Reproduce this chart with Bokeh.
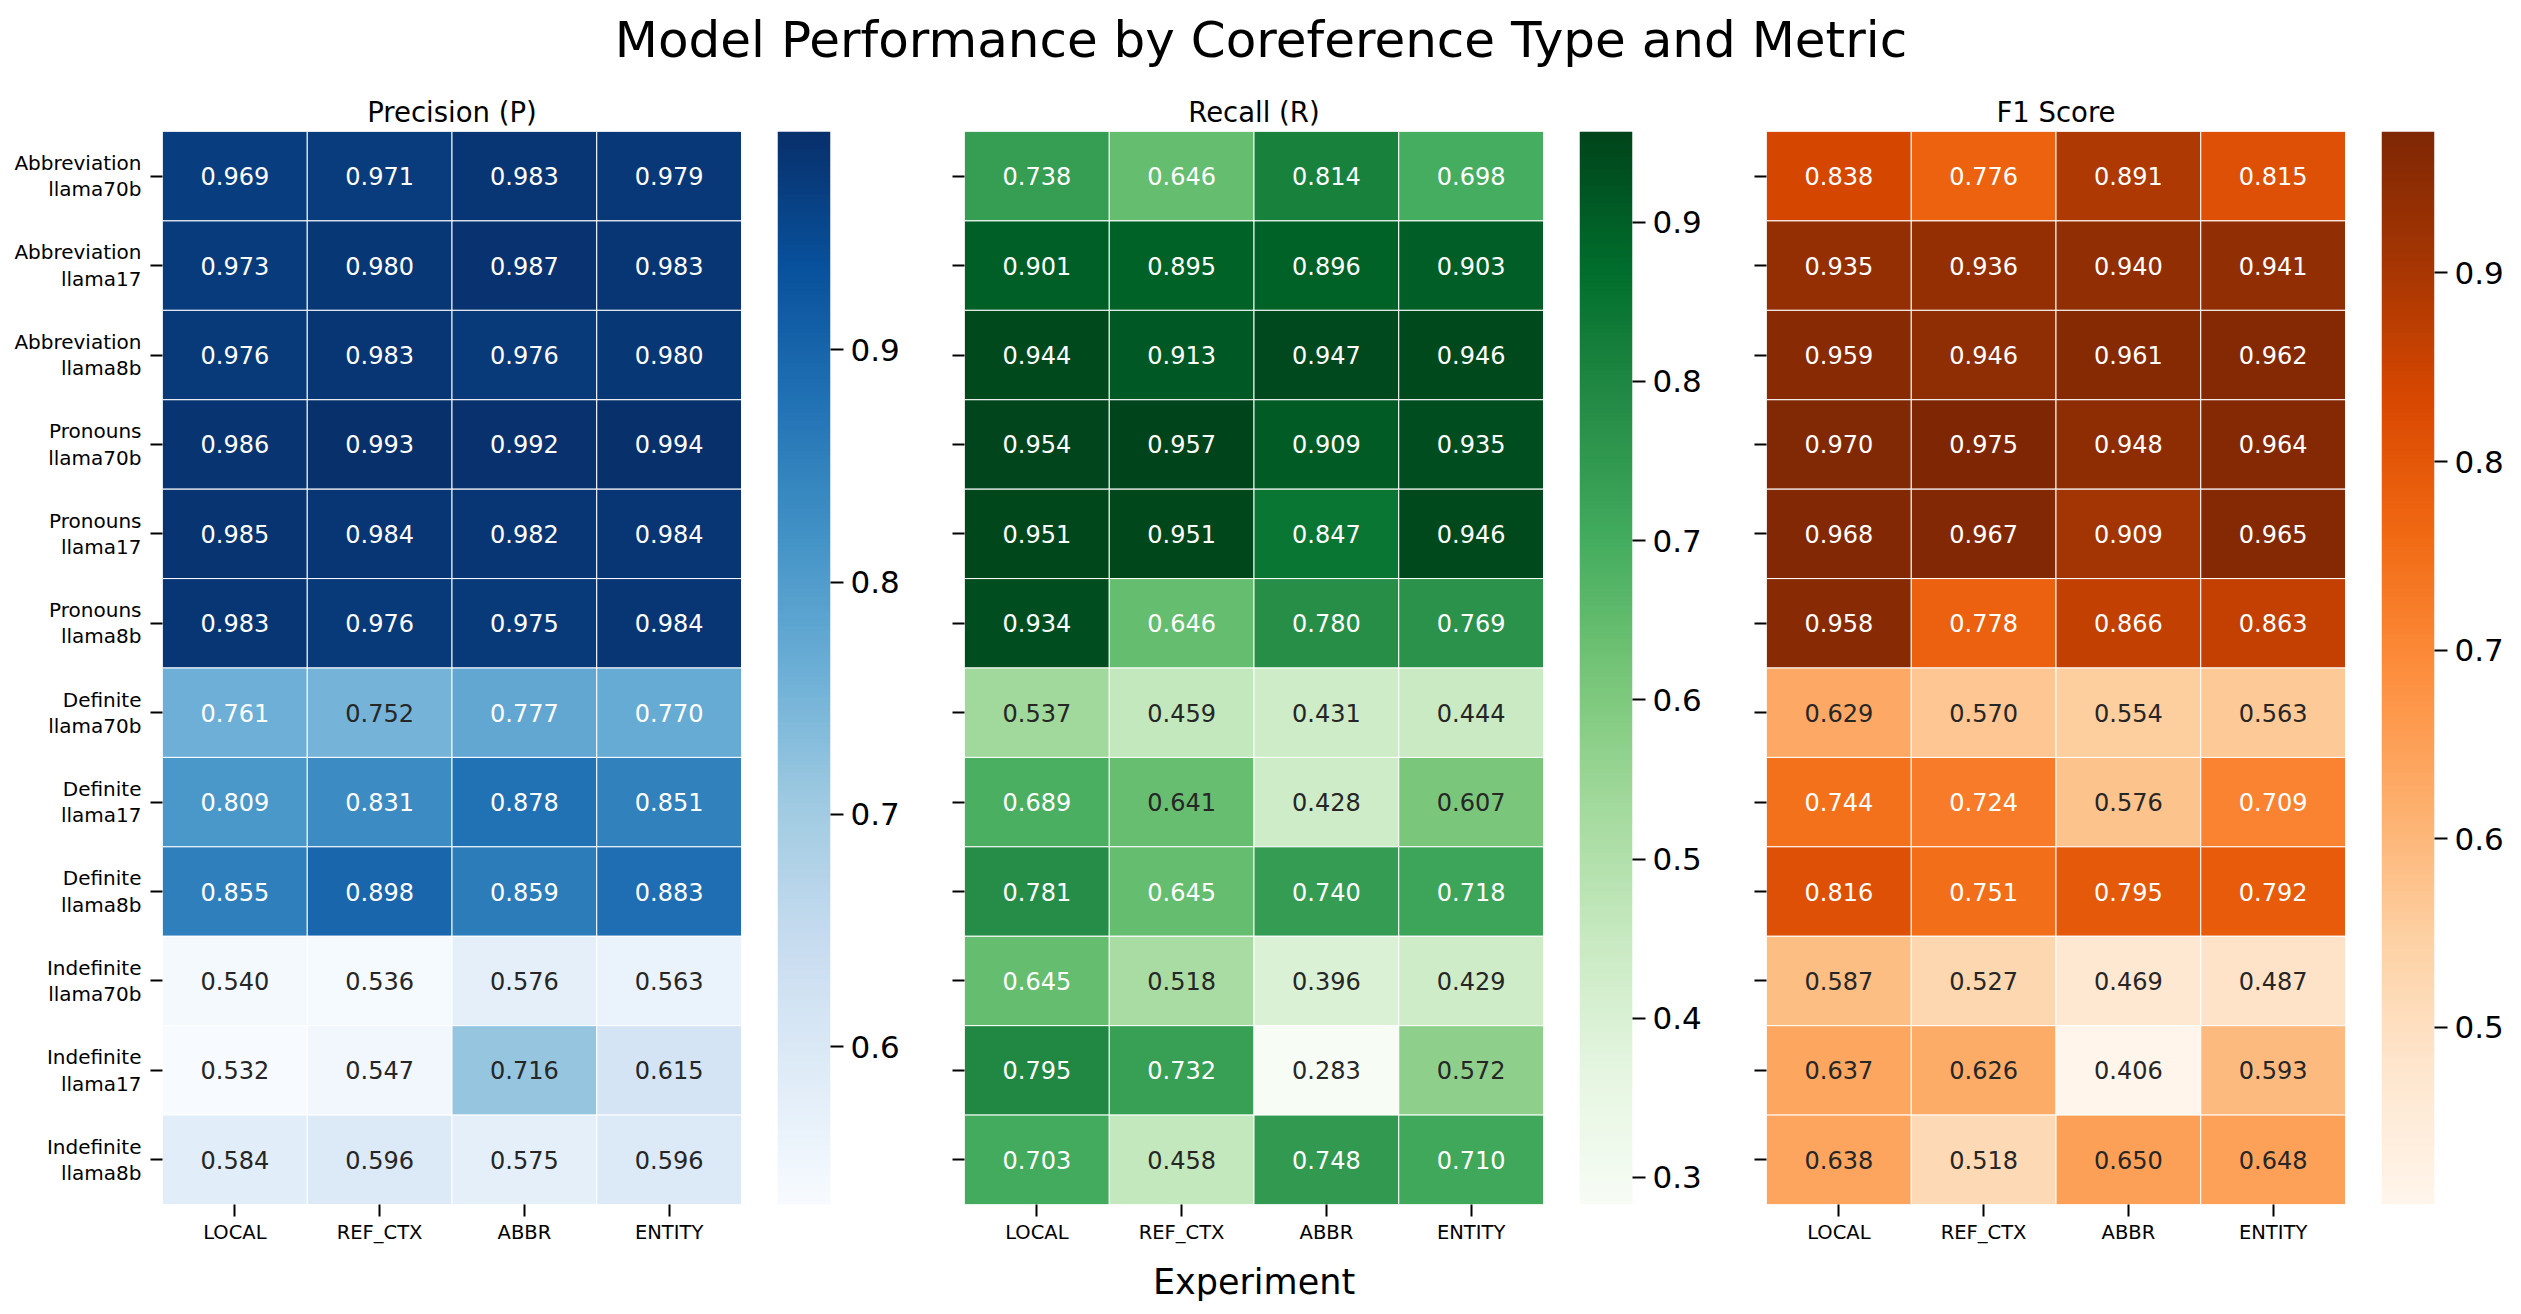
import numpy as np
from bokeh.plotting import figure
from bokeh.models import (ColumnDataSource, LinearColorMapper, FixedTicker,
                          FactorRange, Range1d)
from bokeh.layouts import row, column
from bokeh.palettes import Blues256, Greens256, Oranges256
from bokeh.core.properties import value
from bokeh.embed import file_html
from bokeh.resources import INLINE

FONT = "DejaVu Sans"

coref_types = ["Abbreviation"] * 3 + ["Pronouns"] * 3 + ["Definite"] * 3 + ["Indefinite"] * 3
models = ["llama70b", "llama17", "llama8b"] * 4
experiments = ["LOCAL", "REF_CTX", "ABBR", "ENTITY"]

precision = [
    [0.969, 0.971, 0.983, 0.979],
    [0.973, 0.980, 0.987, 0.983],
    [0.976, 0.983, 0.976, 0.980],
    [0.986, 0.993, 0.992, 0.994],
    [0.985, 0.984, 0.982, 0.984],
    [0.983, 0.976, 0.975, 0.984],
    [0.761, 0.752, 0.777, 0.770],
    [0.809, 0.831, 0.878, 0.851],
    [0.855, 0.898, 0.859, 0.883],
    [0.540, 0.536, 0.576, 0.563],
    [0.532, 0.547, 0.716, 0.615],
    [0.584, 0.596, 0.575, 0.596],
]
recall = [
    [0.738, 0.646, 0.814, 0.698],
    [0.901, 0.895, 0.896, 0.903],
    [0.944, 0.913, 0.947, 0.946],
    [0.954, 0.957, 0.909, 0.935],
    [0.951, 0.951, 0.847, 0.946],
    [0.934, 0.646, 0.780, 0.769],
    [0.537, 0.459, 0.431, 0.444],
    [0.689, 0.641, 0.428, 0.607],
    [0.781, 0.645, 0.740, 0.718],
    [0.645, 0.518, 0.396, 0.429],
    [0.795, 0.732, 0.283, 0.572],
    [0.703, 0.458, 0.748, 0.710],
]
f1_score = [
    [0.838, 0.776, 0.891, 0.815],
    [0.935, 0.936, 0.940, 0.941],
    [0.959, 0.946, 0.961, 0.962],
    [0.970, 0.975, 0.948, 0.964],
    [0.968, 0.967, 0.909, 0.965],
    [0.958, 0.778, 0.866, 0.863],
    [0.629, 0.570, 0.554, 0.563],
    [0.744, 0.724, 0.576, 0.709],
    [0.816, 0.751, 0.795, 0.792],
    [0.587, 0.527, 0.469, 0.487],
    [0.637, 0.626, 0.406, 0.593],
    [0.638, 0.518, 0.650, 0.648],
]

p_ticks = [0.6, 0.7, 0.8, 0.9]
r_ticks = [0.3, 0.4, 0.5, 0.6, 0.7, 0.8, 0.9]
f_ticks = [0.5, 0.6, 0.7, 0.8, 0.9]

row_labels = [f"{c}\n{m}" for c, m in zip(coref_types, models)]

FRAME_W = 579
FRAME_H = 1077
TOP = 53
BOTTOM = 96
CB_GAP = 36
CB_W = 53
TITLE_H = 78


def luminance(hexcol):
    rgb = np.array([int(hexcol[i:i + 2], 16) / 255.0 for i in (1, 3, 5)])
    rgb = np.where(rgb <= 0.03928, rgb / 12.92, ((rgb + 0.055) / 1.055) ** 2.4)
    return float(rgb.dot([0.2126, 0.7152, 0.0722]))


def panel(title, data, palette, ticks, show_labels, left, cb_right, xlabel=None):
    pal = list(reversed(palette))
    vals = np.array(data)
    low, high = float(vals.min()), float(vals.max())
    mapper = LinearColorMapper(palette=pal, low=low, high=high)
    xs, ys, vs, txt, tc = [], [], [], [], []
    for i, lab in enumerate(row_labels):
        for j, e in enumerate(experiments):
            v = data[i][j]
            xs.append(e)
            ys.append(lab)
            vs.append(v)
            txt.append(f"{v:.3f}")
            idx = int(min(len(pal) - 1, max(0, np.floor((v - low) / (high - low) * len(pal)))))
            tc.append("#262626" if luminance(pal[idx]) > 0.408 else "#ffffff")
    src = ColumnDataSource(dict(x=xs, y=ys, v=vs, t=txt, tc=tc))
    p = figure(x_range=FactorRange(*experiments), y_range=FactorRange(*reversed(row_labels)),
               width=left + FRAME_W, height=TOP + FRAME_H + BOTTOM,
               min_border_left=left, min_border_right=0, min_border_top=TOP,
               min_border_bottom=BOTTOM, toolbar_location=None, output_backend="svg",
               title=title)
    p.rect(x="x", y="y", width=1, height=1, source=src,
           fill_color={"field": "v", "transform": mapper}, line_color="white", line_width=1)
    p.text(x="x", y="y", text="t", source=src, text_color="tc", text_align="center",
           text_baseline="middle", text_font_size="24px", text_font=value(FONT))
    p.title.align = "center"
    p.title.text_font = FONT
    p.title.text_font_size = "27.5px"
    p.title.text_font_style = "normal"
    p.title.text_color = "black"
    p.title.standoff = 8
    p.grid.visible = False
    p.outline_line_color = None
    for ax in (p.xaxis, p.yaxis):
        ax.axis_line_color = None
        ax.major_tick_in = 0
        ax.major_tick_out = 12
        ax.major_tick_line_width = 2
        ax.major_tick_line_color = "black"
        ax.major_label_text_font = FONT
        ax.major_label_text_color = "black"
    p.xaxis.major_label_text_font_size = "19.5px"
    p.xaxis.major_label_standoff = 4
    p.yaxis.major_label_text_font_size = "20px"
    p.yaxis.major_label_text_line_height = 1.1
    p.yaxis.major_label_standoff = 9
    if not show_labels:
        p.yaxis.major_label_overrides = {lab: "" for lab in row_labels}
        p.yaxis.major_label_text_color = None
    if xlabel:
        p.xaxis.axis_label = xlabel
        p.xaxis.axis_label_text_font = FONT
        p.xaxis.axis_label_text_font_size = "35px"
        p.xaxis.axis_label_text_font_style = "normal"
        p.xaxis.axis_label_text_color = "black"
        p.xaxis.axis_label_standoff = 15

    # colour bar: its own narrow figure, a gradient image on the value scale
    c = figure(x_range=Range1d(0, 1), y_range=Range1d(low, high),
               width=CB_GAP + CB_W + cb_right, height=TOP + FRAME_H + BOTTOM,
               min_border_left=CB_GAP, min_border_right=cb_right, min_border_top=TOP,
               min_border_bottom=BOTTOM, toolbar_location=None, output_backend="svg",
               y_axis_location="right")
    grad = np.linspace(low, high, 512).reshape(-1, 1)
    c.image(image=[grad], x=0, y=low, dw=1, dh=high - low, color_mapper=mapper)
    c.xaxis.visible = False
    c.grid.visible = False
    c.outline_line_color = None
    ya = c.yaxis[0]
    ya.ticker = FixedTicker(ticks=ticks)
    ya.axis_line_color = None
    ya.major_tick_in = 0
    ya.major_tick_out = 13
    ya.major_tick_line_width = 2
    ya.major_tick_line_color = "black"
    ya.minor_tick_line_color = None
    ya.major_label_text_font = FONT
    ya.major_label_text_font_size = "31px"
    ya.major_label_text_color = "black"
    ya.major_label_standoff = 7
    return p, c


f_p, c_p = panel("Precision (P)", precision, Blues256, p_ticks, True, 162, 90)
f_r, c_r = panel("Recall (R)", recall, Greens256, r_ticks, False, 44, 90, xlabel="Experiment")
f_f, c_f = panel("F1 Score", f1_score, Oranges256, f_ticks, False, 44, 79)

figs = [f_p, c_p, f_r, c_r, f_f, c_f]
total_w = sum(f.width for f in figs) + 8
tfig = figure(width=total_w, height=TITLE_H, toolbar_location=None, output_backend="svg",
              min_border=0, min_border_top=TITLE_H - 2, x_range=(0, 1), y_range=(0, 1),
              title="Model Performance by Coreference Type and Metric")
tfig.axis.visible = False
tfig.grid.visible = False
tfig.outline_line_color = None
tfig.title.align = "center"
tfig.title.text_font = FONT
tfig.title.text_font_size = "50px"
tfig.title.text_font_style = "normal"
tfig.title.text_color = "black"
tfig.title.standoff = 20

layout = column(tfig, row(*figs))
open("out.html", "w").write(file_html(layout, INLINE))
